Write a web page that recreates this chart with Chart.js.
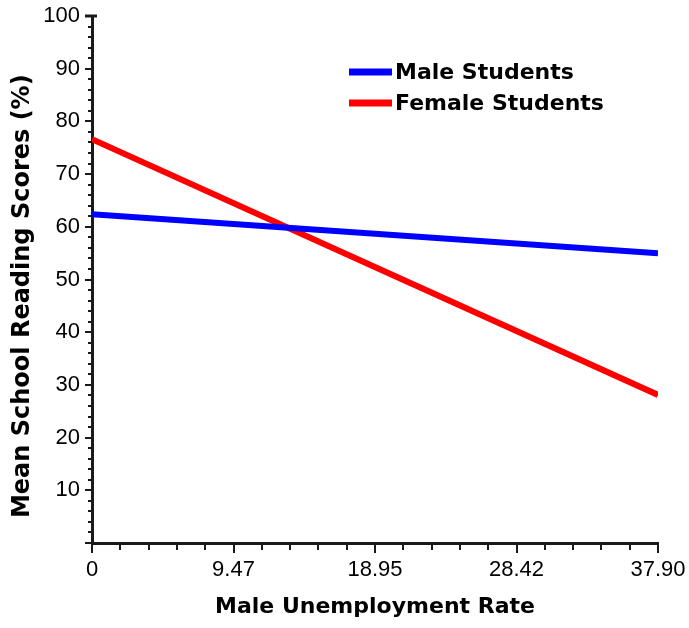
<!DOCTYPE html>
<html>
<head>
<meta charset="utf-8">
<script src="https://cdn.jsdelivr.net/npm/chart.js@4.4.0/dist/chart.umd.min.js"></script>
<style>
  html, body { margin: 0; padding: 0; background: #fff; }
  #wrap { width: 689px; height: 628px; }
</style>
</head>
<body>
<div id="wrap"><canvas id="myChart" width="689" height="628"></canvas></div>
<script>
// values
const unemployment = [0, 37.9]
const maleScores = [62.4, 55.0]
const femaleScores = [76.6, 28.1]
const seriesNames = ["Male Students", "Female Students"]
const xTickValues = [0, 9.475, 18.95, 28.425, 37.9]
const xTickLabels = ["0", "9.47", "18.95", "28.42", "37.90"]
const yTickValues = [10, 20, 30, 40, 50, 60, 70, 80, 90, 100]

const toPoints = (xs, ys) => xs.map((x, i) => ({ x: x, y: ys[i] }))

// small tick marks along both axes plus the legend in the top right
const axisExtras = {
    id: "axisExtras",
    afterDraw(chart) {
        const { ctx, scales: { x, y } } = chart
        const x0 = x.left
        const y0 = y.bottom
        ctx.save()
        ctx.strokeStyle = "#1a1a1a"
        ctx.lineWidth = 2
        ctx.beginPath()
        for (let v = 0; v <= 100; v += 2) {
            const py = Math.round(y.getPixelForValue(v))
            const len = v % 10 === 0 ? 7 : 4
            ctx.moveTo(x0, py)
            ctx.lineTo(x0 - len, py)
        }
        for (let i = 0; i <= 20; i++) {
            const px = Math.round(x.getPixelForValue(x.max * i / 20))
            const len = i % 5 === 0 ? 10 : 7
            ctx.moveTo(px, y0)
            ctx.lineTo(px, y0 + len)
        }
        ctx.stroke()
        // cap on top of the y axis
        ctx.lineWidth = 3
        ctx.beginPath()
        const top = Math.round(y.getPixelForValue(100))
        ctx.moveTo(x0 - 7, top)
        ctx.lineTo(x0 + 5, top)
        ctx.stroke()

        // legend
        ctx.font = "bold 22px 'DejaVu Sans'"
        ctx.textBaseline = "middle"
        ctx.fillStyle = "#000"
        chart.data.datasets.forEach((ds, i) => {
            const ly = 72 + i * 31
            ctx.strokeStyle = ds.borderColor
            ctx.lineWidth = 7
            ctx.beginPath()
            ctx.moveTo(349, ly)
            ctx.lineTo(392, ly)
            ctx.stroke()
            ctx.fillText(ds.label, 395, ly + 1)
        })
        ctx.restore()
    }
}

new Chart("myChart", {
    type: "scatter",
    data: {
        datasets: [{
            label: seriesNames[0],
            data: toPoints(unemployment, maleScores),
            borderColor: "#0000ff",
            backgroundColor: "#0000ff",
            borderWidth: 6,
            showLine: true,
            pointRadius: 0
        }, {
            label: seriesNames[1],
            data: toPoints(unemployment, femaleScores),
            borderColor: "#ff0000",
            backgroundColor: "#ff0000",
            borderWidth: 6,
            showLine: true,
            pointRadius: 0
        }]
    },
    options: {
        responsive: false,
        animation: false,
        layout: { padding: { top: 16, right: 31, left: 0, bottom: 0 } },
        plugins: {
            legend: { display: false },
            tooltip: { enabled: false }
        },
        scales: {
            x: {
                type: "linear",
                min: 0,
                max: 37.9,
                afterFit: (scale) => {
                    scale.height = 85
                    scale.paddingLeft = 0
                    scale.paddingRight = 0
                },
                afterBuildTicks: (scale) => { scale.ticks = xTickValues.map(v => ({ value: v })) },
                grid: { drawOnChartArea: false, drawTicks: false },
                border: { color: "#1a1a1a", width: 3 },
                ticks: {
                    autoSkip: false,
                    maxRotation: 0,
                    padding: 14,
                    color: "#000",
                    font: { family: "'Liberation Sans'", size: 22 },
                    callback: (val, i) => xTickLabels[i]
                },
                title: {
                    display: true,
                    text: "Male Unemployment Rate",
                    color: "#000",
                    font: { family: "'DejaVu Sans'", size: 22, weight: "bold" },
                    padding: { top: 0, bottom: 8 }
                }
            },
            y: {
                min: 0,
                max: 100,
                afterFit: (scale) => {
                    scale.width = 92
                    scale.paddingTop = 0
                    scale.paddingBottom = 0
                },
                afterBuildTicks: (scale) => { scale.ticks = yTickValues.map(v => ({ value: v })) },
                grid: { drawOnChartArea: false, drawTicks: false },
                border: { color: "#1a1a1a", width: 3 },
                ticks: {
                    padding: 12,
                    color: "#000",
                    font: { family: "'Liberation Sans'", size: 22 }
                },
                title: {
                    display: true,
                    text: "Mean School Reading Scores (%)    ",
                    color: "#000",
                    font: { family: "'DejaVu Sans'", size: 24, weight: "bold" },
                    padding: { top: 8, bottom: 0 }
                }
            }
        }
    },
    plugins: [axisExtras]
})
</script>
</body>
</html>
